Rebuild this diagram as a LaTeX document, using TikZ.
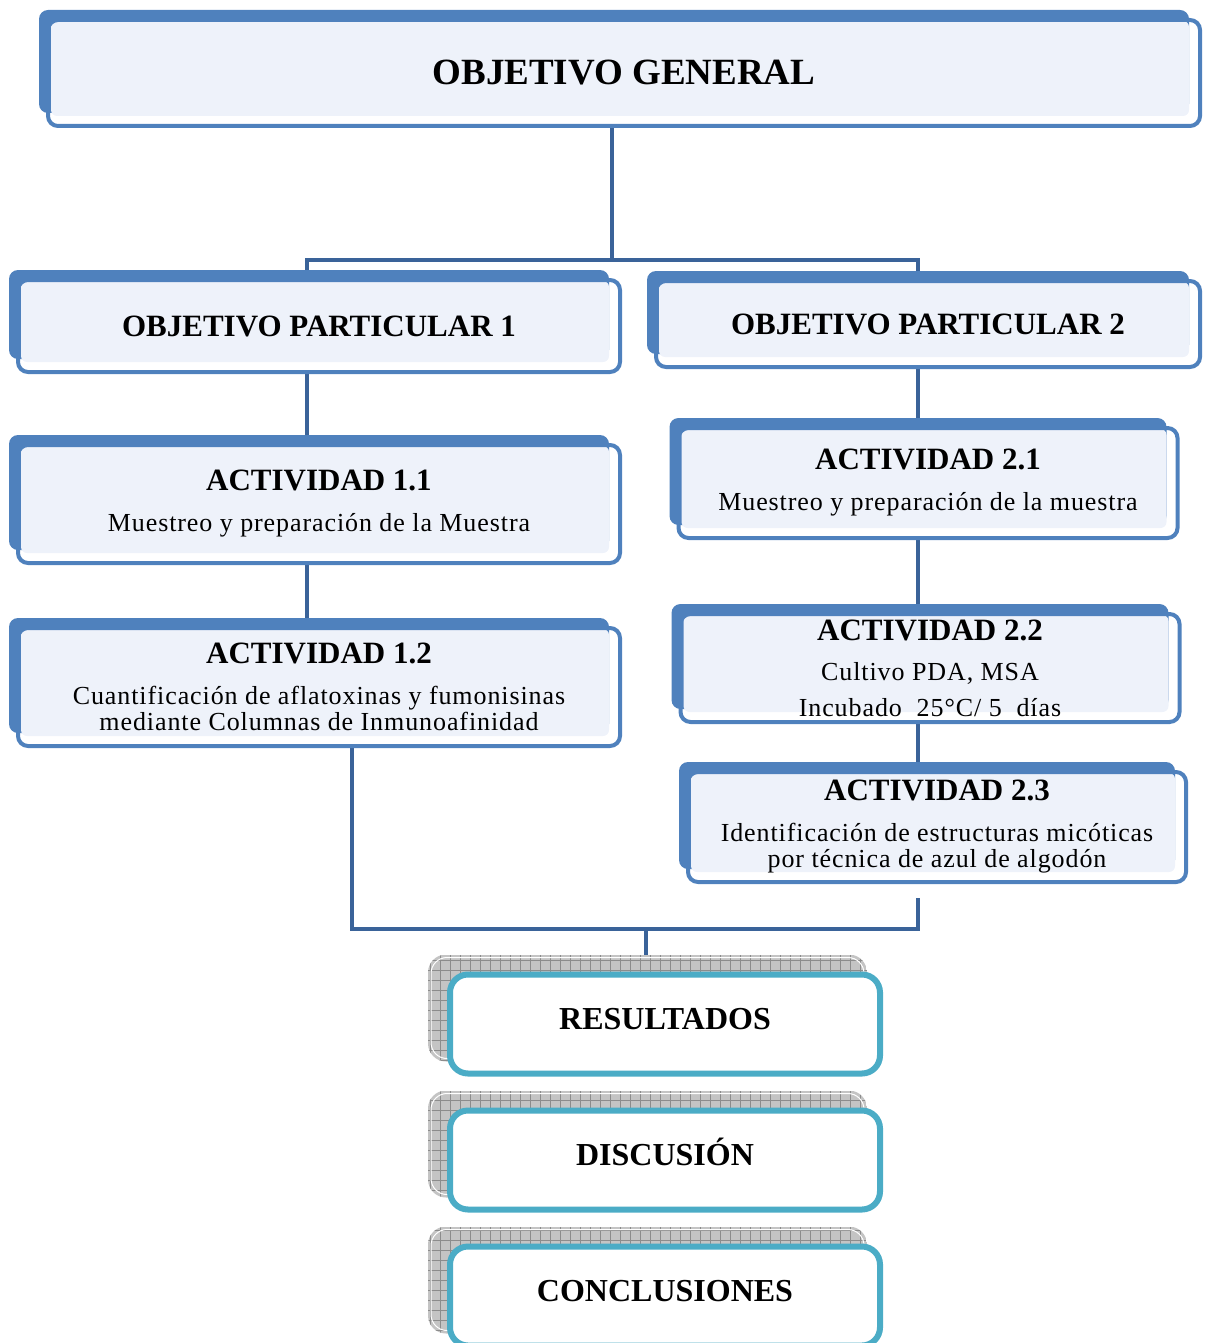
\documentclass[tikz,border=0pt]{standalone}
\usepackage{fontspec}
\setmainfont{Liberation Serif}
\newfontfamily\bodyserif{Liberation Serif}[LetterSpace=3.5]

\definecolor{boxblue}{HTML}{4F81BD}
\definecolor{boxfill}{HTML}{EEF2FA}
\definecolor{linkblue}{HTML}{3A6399}
\definecolor{resteal}{HTML}{4BACC6}
\definecolor{shadegray}{HTML}{C4C4C4}
\definecolor{gridgray}{HTML}{8C8C8C}

\pgfdeclarelayer{links}
\pgfdeclarelayer{shade}
\pgfsetlayers{links,shade,main}

\newcommand{\headfont}{\rmfamily\fontsize{31}{36}\selectfont\bfseries}
\newcommand{\bodyfont}{\bodyserif\fontsize{26}{26}\selectfont}

\begin{document}
\begin{tikzpicture}[x=1pt, y=-1pt,
    objbox/.style={draw=boxblue, line width=4pt, rounded corners=10pt, outer sep=0pt,
                   inner sep=0pt, align=center, font=\bodyfont},
    resbox/.style={draw=resteal, line width=6pt, fill=white, rounded corners=18pt, outer sep=0pt,
                   minimum width=430pt, minimum height=99pt, text height=22pt, text depth=12pt,
                   font=\fontsize{32}{36}\selectfont\bfseries},
    link/.style={draw=linkblue, line width=4pt}]
  \useasboundingbox (0,0) rectangle (1204,1343);

  % objectives and activities
  \node[objbox, minimum width=1152pt, minimum height=106pt,
        font=\fontsize{37}{40}\selectfont\bfseries] (og) at (624,73) {OBJETIVO GENERAL};
  \node[objbox, minimum width=602pt, minimum height=92pt, font=\headfont] (op1) at (319,326) {OBJETIVO PARTICULAR 1};
  \node[objbox, minimum width=544pt, minimum height=86pt, font=\headfont] (op2) at (928,324) {OBJETIVO PARTICULAR 2};
  \node[objbox, minimum width=602pt, minimum height=118pt] (a11) at (319,504)
    {{\headfont ACTIVIDAD 1.1}\\[15pt]Muestreo y preparación de la Muestra};
  \node[objbox, minimum width=602pt, minimum height=118pt] (a12) at (319,687)
    {{\headfont ACTIVIDAD 1.2}\\[15pt]Cuantificación de aflatoxinas y fumonisinas\\mediante Columnas de Inmunoafinidad};
  \node[objbox, minimum width=499pt, minimum height=110pt] (a21) at (928,483)
    {{\headfont ACTIVIDAD 2.1}\\[15pt]Muestreo y preparación de la muestra};
  \node[objbox, minimum width=499pt, minimum height=108pt] (a22) at (930,668)
    {{\headfont ACTIVIDAD 2.2}\\[14pt]Cultivo PDA, MSA\\[10pt]Incubado\ \ 25°C/ 5\ \ días};
  \node[objbox, minimum width=498pt, minimum height=110pt] (a23) at (937,827)
    {{\headfont ACTIVIDAD 2.3}\\[15pt]Identificación de estructuras micóticas\\por técnica de azul de algodón};

  % closing boxes
  \node[resbox] (res) at (665,1024) {RESULTADOS};
  \node[resbox] (dis) at (665,1160) {DISCUSIÓN};
  \node[resbox] (con) at (665,1296) {CONCLUSIONES};

  % shadows
  \begin{pgfonlayer}{shade}
    \foreach \nm in {og,op1,op2,a11,a12,a21,a22,a23} {
      \fill[boxblue, rounded corners=9pt] ([shift={(-9,-10)}]\nm.north west) rectangle ([shift={(-11,-13)}]\nm.south east);
      \fill[boxfill, rounded corners=6pt] ([shift={(3,1)}]\nm.north west) rectangle ([shift={(-11,-10)}]\nm.south east);
    }
    \foreach \nm in {res,dis,con} {
      \begin{scope}
        \clip[rounded corners=18pt] ([shift={(-22,-20)}]\nm.north west) rectangle ([shift={(-13,-12)}]\nm.south east);
        \fill[shadegray] ([shift={(-22,-20)}]\nm.north west) rectangle ([shift={(-13,-12)}]\nm.south east);
        \draw[gridgray, line width=0.8pt, step=10pt] ([shift={(-22,-20)}]\nm.north west) grid ([shift={(-13,-12)}]\nm.south east);
      \end{scope}
      \draw[white, line width=1pt, rounded corners=16pt] ([shift={(-19,-17)}]\nm.north west) rectangle ([shift={(-16,-15)}]\nm.south east);
    }
  \end{pgfonlayer}

  % connectors
  \coordinate (trunk) at (612,260);
  \coordinate (lx) at (307,0);
  \coordinate (rx) at (918,0);
  \coordinate (bx) at (352,0);
  \coordinate (bar) at (646,929);
  \coordinate (rend) at (918,898);
  \begin{pgfonlayer}{links}
    \draw[link] (trunk |- og.south) -- (trunk);
    \draw[link] (lx |- op1.north) |- (trunk) -| (rx |- op2.north);
    \draw[link] (lx |- op1.south) -- (lx |- a11.north);
    \draw[link] (lx |- a11.south) -- (lx |- a12.north);
    \draw[link] (rx |- op2.south) -- (rx |- a21.north);
    \draw[link] (rx |- a21.south) -- (rx |- a22.north);
    \draw[link] (rx |- a22.south) -- (rx |- a23.north);
    \draw[link] (bx |- a12.south) |- (bar) -| (rend);
    \draw[link] (bar) -- (bar |- res.north);
  \end{pgfonlayer}
\end{tikzpicture}
\end{document}
